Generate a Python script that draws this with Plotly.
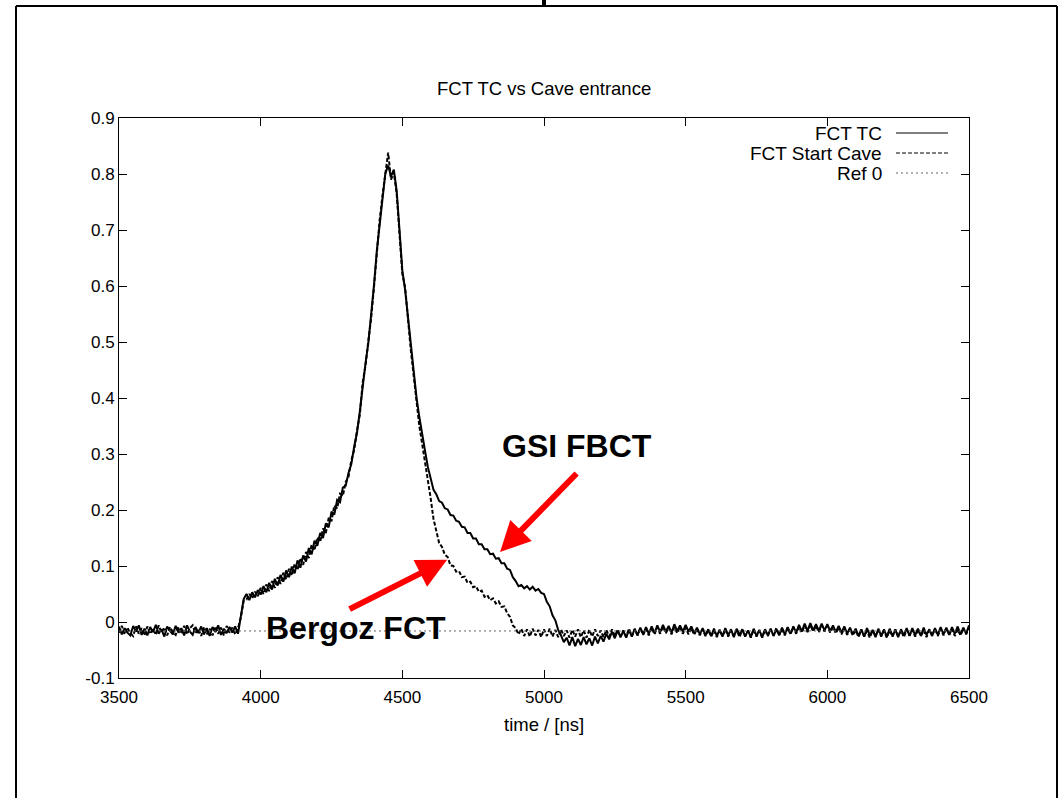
import plotly.graph_objects as go

# ---------------- data ----------------
time_ns = list(range(3500, 6501, 10))

fct_tc = [
    -0.008, -0.022, -0.011, -0.019, -0.024, -0.007, -0.017, -0.006, -0.023, -0.012,
    -0.024, -0.009, -0.018, -0.005, -0.021, -0.013, -0.026, -0.008, -0.016, -0.022,
    -0.007, -0.019, -0.011, -0.024, -0.006, -0.017, -0.023, -0.009, -0.020, -0.008,
    -0.022, -0.011, -0.025, -0.009, -0.018, -0.006, -0.023, -0.012, -0.020, -0.009,
    -0.019, -0.008, -0.021, 0.012, 0.041, 0.050, 0.039, 0.053, 0.044, 0.057,
    0.049, 0.064, 0.053, 0.070, 0.058, 0.077, 0.065, 0.084, 0.072, 0.092,
    0.080, 0.099, 0.087, 0.110, 0.097, 0.119, 0.108, 0.132, 0.121, 0.145,
    0.136, 0.159, 0.150, 0.176, 0.169, 0.197, 0.192, 0.218, 0.214, 0.240,
    0.243, 0.266, 0.282, 0.313, 0.338, 0.376, 0.423, 0.462, 0.498, 0.547,
    0.602, 0.663, 0.712, 0.758, 0.801, 0.815, 0.796, 0.808, 0.770, 0.700,
    0.628, 0.592, 0.543, 0.488, 0.447, 0.401, 0.366, 0.333, 0.306, 0.277,
    0.256, 0.236, 0.228, 0.216, 0.213, 0.203, 0.201, 0.191, 0.190, 0.181,
    0.179, 0.170, 0.169, 0.159, 0.159, 0.149, 0.149, 0.139, 0.139, 0.130,
    0.130, 0.121, 0.122, 0.113, 0.114, 0.105, 0.105, 0.095, 0.093, 0.080,
    0.073, 0.064, 0.066, 0.060, 0.064, 0.058, 0.063, 0.056, 0.059, 0.052,
    0.050, 0.036, 0.028, 0.012, 0.003, -0.014, -0.024, -0.036, -0.028, -0.042,
    -0.027, -0.043, -0.030, -0.041, -0.027, -0.040, -0.029, -0.042, -0.026, -0.038,
    -0.025, -0.035, -0.021, -0.031, -0.017, -0.029, -0.015, -0.027, -0.016, -0.028,
    -0.014, -0.026, -0.012, -0.024, -0.010, -0.022, -0.009, -0.021, -0.008, -0.020,
    -0.006, -0.018, -0.005, -0.017, -0.007, -0.019, -0.004, -0.016, -0.006, -0.017,
    -0.005, -0.017, -0.008, -0.020, -0.010, -0.022, -0.011, -0.024, -0.013, -0.025,
    -0.012, -0.025, -0.014, -0.026, -0.011, -0.024, -0.013, -0.027, -0.012, -0.023,
    -0.013, -0.026, -0.015, -0.027, -0.012, -0.025, -0.014, -0.028, -0.013, -0.024,
    -0.012, -0.025, -0.013, -0.024, -0.010, -0.022, -0.009, -0.021, -0.008, -0.019,
    -0.005, -0.017, -0.003, -0.016, -0.002, -0.015, -0.004, -0.016, -0.003, -0.015,
    -0.004, -0.016, -0.006, -0.018, -0.007, -0.019, -0.008, -0.021, -0.010, -0.022,
    -0.012, -0.025, -0.013, -0.026, -0.011, -0.024, -0.014, -0.027, -0.012, -0.025,
    -0.013, -0.026, -0.012, -0.025, -0.014, -0.027, -0.013, -0.024, -0.011, -0.025,
    -0.011, -0.024, -0.012, -0.025, -0.010, -0.023, -0.013, -0.025, -0.011, -0.023,
    -0.009, -0.022, -0.010, -0.023, -0.009, -0.021, -0.008, -0.022, -0.010, -0.021,
    -0.006,
]

fct_start_cave = [
    -0.019, -0.007, -0.022, -0.010, -0.020, -0.025, -0.008, -0.021, -0.011, -0.024,
    -0.008, -0.021, -0.012, -0.023, -0.006, -0.019, -0.010, -0.024, -0.009, -0.018,
    -0.023, -0.009, -0.021, -0.007, -0.022, -0.011, -0.006, -0.020, -0.012, -0.025,
    -0.009, -0.022, -0.012, -0.024, -0.008, -0.021, -0.010, -0.024, -0.007, -0.019,
    -0.010, -0.022, -0.011, 0.008, 0.038, 0.040, 0.050, 0.042, 0.054, 0.046,
    0.061, 0.050, 0.067, 0.055, 0.073, 0.061, 0.080, 0.068, 0.088, 0.076,
    0.095, 0.083, 0.104, 0.093, 0.114, 0.102, 0.125, 0.114, 0.138, 0.128,
    0.151, 0.143, 0.167, 0.159, 0.186, 0.180, 0.208, 0.203, 0.229, 0.225,
    0.250, 0.259, 0.289, 0.307, 0.342, 0.370, 0.428, 0.458, 0.502, 0.543,
    0.598, 0.667, 0.718, 0.762, 0.805, 0.838, 0.790, 0.803, 0.765, 0.690,
    0.622, 0.597, 0.536, 0.485, 0.440, 0.392, 0.350, 0.318, 0.288, 0.255,
    0.221, 0.184, 0.162, 0.141, 0.134, 0.120, 0.116, 0.101, 0.100, 0.090,
    0.091, 0.080, 0.081, 0.070, 0.072, 0.062, 0.064, 0.054, 0.056, 0.045,
    0.048, 0.039, 0.042, 0.033, 0.037, 0.027, 0.028, 0.016, 0.009, -0.006,
    -0.011, -0.022, -0.012, -0.025, -0.013, -0.026, -0.012, -0.024, -0.014, -0.027,
    -0.013, -0.025, -0.012, -0.026, -0.014, -0.027, -0.013, -0.025, -0.015, -0.028,
    -0.014, -0.026, -0.013, -0.027, -0.015, -0.028, -0.014, -0.026, -0.013, -0.025,
    -0.015, -0.027, -0.014, -0.026, -0.013, -0.025, -0.014, -0.027, -0.015, -0.026,
    -0.012, -0.025, -0.013, -0.024, -0.011, -0.023, -0.012, -0.024, -0.010, -0.022,
    -0.009, -0.021, -0.008, -0.020, -0.010, -0.022, -0.009, -0.020, -0.008, -0.021,
    -0.010, -0.022, -0.011, -0.023, -0.012, -0.024, -0.013, -0.025, -0.014, -0.026,
    -0.015, -0.027, -0.014, -0.025, -0.013, -0.026, -0.015, -0.025, -0.014, -0.027,
    -0.014, -0.025, -0.016, -0.028, -0.013, -0.026, -0.015, -0.027, -0.014, -0.025,
    -0.013, -0.024, -0.011, -0.023, -0.012, -0.024, -0.010, -0.022, -0.009, -0.021,
    -0.008, -0.019, -0.006, -0.018, -0.005, -0.017, -0.007, -0.018, -0.006, -0.017,
    -0.007, -0.019, -0.009, -0.020, -0.010, -0.022, -0.011, -0.023, -0.012, -0.024,
    -0.015, -0.027, -0.014, -0.026, -0.016, -0.028, -0.015, -0.025, -0.014, -0.026,
    -0.016, -0.028, -0.015, -0.026, -0.013, -0.025, -0.015, -0.027, -0.014, -0.024,
    -0.014, -0.026, -0.013, -0.025, -0.015, -0.027, -0.014, -0.024, -0.012, -0.025,
    -0.013, -0.024, -0.011, -0.023, -0.012, -0.025, -0.013, -0.024, -0.011, -0.022,
    -0.010,
]

ref0_time = [3500, 6500]
ref0_value = [-0.016, -0.016]

series_names = ["FCT TC", "FCT Start Cave", "Ref 0"]
x_ticks = [3500, 4000, 4500, 5000, 5500, 6000, 6500]
y_ticks = [-0.1, 0, 0.1, 0.2, 0.3, 0.4, 0.5, 0.6, 0.7, 0.8, 0.9]
y_tick_text = ["-0.1", "0", "0.1", "0.2", "0.3", "0.4", "0.5", "0.6", "0.7", "0.8", "0.9"]

title_text = "FCT TC vs Cave entrance"
x_title = "time / [ns]"
label_gsi = "GSI FBCT"
label_bergoz = "Bergoz FCT"
gsi_point = (4845, 0.125)
bergoz_point = (4658, 0.111)

assert len(fct_tc) == len(time_ns) == len(fct_start_cave)

# ---------------- layout geometry (screen pixels) ----------------
W, H = 1061, 798
PLOT_X0, PLOT_X1, PLOT_Y0, PLOT_Y1 = 119, 969, 118, 678
L, T = PLOT_X0, PLOT_Y0
PW, PH = PLOT_X1 - PLOT_X0, PLOT_Y1 - PLOT_Y0
R, B = W - L - PW, H - T - PH
FONT = "Liberation Sans, Arial, sans-serif"


def px(x):
    return (x - PLOT_X0) / PW


def py(y):
    return (PLOT_Y1 - y) / PH


fig = go.Figure()
fig.add_trace(go.Scatter(x=time_ns, y=fct_tc, mode="lines", name=series_names[0],
                         line=dict(color="black", width=2)))
fig.add_trace(go.Scatter(x=time_ns, y=fct_start_cave, mode="lines", name=series_names[1],
                         line=dict(color="black", width=2, dash="4px,2px")))
fig.add_trace(go.Scatter(x=ref0_time, y=ref0_value, mode="lines", name=series_names[2],
                         line=dict(color="#666666", width=1, dash="2px,3px")))

annotations = [
    dict(text=title_text, xref="paper", yref="paper", x=px(544), y=py(89),
         showarrow=False, font=dict(family=FONT, size=18.5, color="black"),
         xanchor="center", yanchor="middle"),
    dict(text=x_title, xref="paper", yref="paper", x=px(544), y=py(724),
         showarrow=False, font=dict(family=FONT, size=18.5, color="black"),
         xanchor="center", yanchor="middle"),
    dict(text="<b>%s</b>" % label_gsi, xref="paper", yref="paper", x=px(577), y=py(446),
         showarrow=False, font=dict(family=FONT, size=32, color="black"),
         xanchor="center", yanchor="middle"),
    dict(text="<b>%s</b>" % label_bergoz, xref="paper", yref="paper", x=px(356), y=py(628),
         showarrow=False, font=dict(family=FONT, size=32, color="black"),
         xanchor="center", yanchor="middle"),
    dict(text="", x=gsi_point[0], y=gsi_point[1], xref="x", yref="y",
         ax=78, ay=-80, showarrow=True, arrowhead=2, arrowsize=1, arrowwidth=6,
         arrowcolor="#ff0000"),
    dict(text="", x=bergoz_point[0], y=bergoz_point[1], xref="x", yref="y",
         ax=-99, ay=50, showarrow=True, arrowhead=2, arrowsize=1, arrowwidth=6,
         arrowcolor="#ff0000"),
]

# legend drawn gnuplot-style: text on the left, sample on the right
legend_y = [133, 153, 173]
legend_dash = ["solid", "4px,2px", "2px,3px"]
legend_color = ["black", "black", "#666666"]
shapes = []
for name, yy, dsh, col in zip(series_names, legend_y, legend_dash, legend_color):
    annotations.append(dict(text=name, xref="paper", yref="paper", x=px(884), y=py(yy),
                            showarrow=False, xanchor="right", yanchor="middle",
                            font=dict(family=FONT, size=19, color="black")))
    shapes.append(dict(type="line", xref="paper", yref="paper",
                       x0=px(896), x1=px(948), y0=py(yy), y1=py(yy),
                       line=dict(color=col, width=1, dash=dsh)))

# outer slide frame
frame = dict(color="black", width=2)
shapes += [
    dict(type="line", xref="paper", yref="paper", x0=px(16), x1=px(16), y0=py(6), y1=py(800), line=frame),
    dict(type="line", xref="paper", yref="paper", x0=px(16), x1=px(1057), y0=py(6), y1=py(6), line=frame),
    dict(type="line", xref="paper", yref="paper", x0=px(1057), x1=px(1057), y0=py(6), y1=py(800), line=frame),
    dict(type="line", xref="paper", yref="paper", x0=px(544), x1=px(544), y0=py(-2), y1=py(6),
         line=dict(color="black", width=4)),
]

axis_common = dict(showline=True, linecolor="black", linewidth=1, mirror="allticks",
                   ticks="inside", ticklen=8, tickcolor="black", tickwidth=1,
                   showgrid=False, zeroline=False,
                   tickfont=dict(family=FONT, size=17, color="black"))

fig.update_layout(
    width=W, height=H,
    margin=dict(l=L, r=R, t=T, b=B, pad=0),
    paper_bgcolor="white", plot_bgcolor="white",
    showlegend=False,
    xaxis=dict(range=[3500, 6500], tickvals=x_ticks, ticklabelstandoff=4, **axis_common),
    yaxis=dict(range=[-0.1, 0.9], tickvals=y_ticks, ticktext=y_tick_text, **axis_common),
    annotations=annotations,
    shapes=shapes,
)

fig.write_html("out.html", config={"displayModeBar": False},
               post_script="document.body.style.margin='0';document.body.style.overflow='hidden';")
